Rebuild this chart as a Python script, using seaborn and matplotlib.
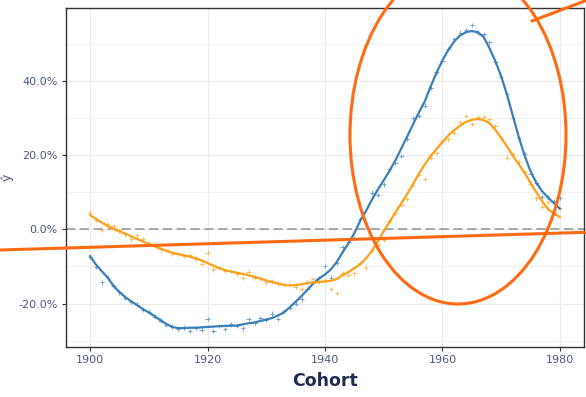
import numpy as np
import pandas as pd
import matplotlib
matplotlib.use("Agg")
import matplotlib.pyplot as plt
import seaborn as sns
from matplotlib.patches import Ellipse
from matplotlib.lines import Line2D
from matplotlib.ticker import FixedLocator, FuncFormatter

# ---------------- data ----------------
years = list(range(1900, 1981))

blue_points = [-7.5, -10.1, -14.3, -13.0, -15.4, -17.0, -18.4, -19.6, -20.3, -21.7,
               -22.3, -23.5, -24.6, -25.8, -26.2, -26.9, -26.4, -27.4, -26.6, -27.0,
               -24.2, -27.4, -26.0, -26.9, -25.6, -26.0, -26.7, -24.2, -25.2, -24.0,
               -24.4, -22.7, -24.2, -22.0, -21.2, -20.0, -18.9, -16.0, -14.2, -13.2,
               -9.9, -13.0, -9.0, -4.9, -3.5, -2.4, 2.7, 1.8, 9.9, 9.2,
               12.1, 16.2, 17.9, 19.7, 24.4, 29.9, 30.5, 33.3, 38.0, 42.4,
               45.4, 48.5, 51.2, 53.0, 53.7, 55.1, 53.0, 52.6, 50.5, 45.0,
               41.0, 36.5, 30.0, 24.5, 20.3, 15.0, 12.5, 8.7, 8.6, 7.5,
               8.4]

blue_fit = [-7.2, -9.5, -11.3, -13.0, -15.3, -16.9, -18.3, -19.4, -20.4, -21.5,
            -22.4, -23.4, -24.5, -25.5, -26.3, -26.6, -26.6, -26.5, -26.5, -26.4,
            -26.3, -26.2, -26.1, -26.0, -26.0, -25.9, -25.6, -25.3, -25.1, -24.7,
            -24.3, -23.9, -23.2, -22.4, -21.0, -19.5, -18.0, -16.3, -14.6, -13.2,
            -12.2, -10.8, -8.8, -6.2, -3.8, -1.0, 2.3, 5.0, 8.0, 10.7,
            13.2, 15.8, 18.6, 21.8, 25.0, 28.3, 31.5, 34.5, 38.5, 42.2,
            45.5, 48.3, 50.6, 52.2, 53.1, 53.4, 53.1, 51.8, 48.8, 45.3,
            41.2, 36.2, 30.5, 24.8, 19.8, 15.6, 12.5, 10.2, 8.5, 7.0,
            5.5]

orange_points = [4.5, 2.6, -0.2, 1.5, 0.9, -0.3, -1.4, -2.7, -1.5, -2.7,
                 -4.0, -4.4, -5.4, -5.6, -6.7, -6.7, -7.2, -7.0, -7.9, -9.4,
                 -6.3, -10.8, -10.2, -11.2, -11.3, -12.0, -13.0, -11.4, -13.1, -13.2,
                 -14.3, -14.0, -14.6, -14.8, -15.0, -15.5, -16.2, -14.3, -13.5, -14.1,
                 -13.8, -16.0, -17.2, -11.9, -12.2, -11.9, -9.0, -10.3, -5.5, -4.2,
                 -2.9, 2.3, 4.5, 6.5, 8.1, 12.0, 14.7, 13.5, 19.3, 20.5,
                 23.8, 24.2, 25.9, 28.9, 30.5, 28.3, 30.2, 30.2, 29.6, 27.8,
                 24.5, 19.3, 20.2, 18.0, 15.5, 12.3, 8.3, 6.1, 7.4, 4.5,
                 5.8]

orange_fit = [3.8, 2.8, 1.8, 0.9, 0.1, -0.6, -1.2, -1.9, -2.6, -3.3,
              -3.9, -4.6, -5.2, -5.8, -6.3, -6.7, -7.0, -7.4, -7.8, -8.4,
              -9.1, -9.8, -10.5, -11.0, -11.4, -11.7, -12.0, -12.4, -12.8, -13.3,
              -13.8, -14.2, -14.6, -15.0, -15.1, -15.0, -14.8, -14.5, -14.3, -14.2,
              -14.0, -13.9, -13.4, -12.3, -11.5, -10.5, -9.4, -7.8, -5.8, -3.2,
              -0.5, 2.0, 4.6, 7.0, 9.5, 12.2, 15.0, 17.5, 19.8, 21.6,
              23.5, 25.3, 26.7, 27.9, 28.9, 29.5, 29.7, 29.4, 28.6, 26.8,
              24.6, 22.3, 19.8, 17.5, 15.2, 12.5, 9.9, 7.5, 5.4, 4.2,
              3.3]

x_ticks = [1900, 1920, 1940, 1960, 1980]
y_ticks = [-20, 0, 20, 40]
y_minor = [-30, -10, 10, 30, 50]

# ---------------- style ----------------
sns.set_theme(style="white")
plt.rcParams['font.family'] = ['DejaVu Sans']

BLUE = "#3A7FB8"
BLUE_PT = "#6AA3D2"
ORANGE = "#FFA01A"
ORANGE_PT = "#FFBA52"
TICK_COL = "#4A5680"
ANNOT = "#FF6A13"

W, H = 586, 397
fig = plt.figure(figsize=(W / 100, H / 100), dpi=100)
ax = fig.add_axes([66 / W, 1 - 347 / H, (584 - 66) / W, (347 - 8) / H])

df = pd.DataFrame({
    "year": years * 2,
    "points": blue_points + orange_points,
    "fit": blue_fit + orange_fit,
    "group": ["a"] * len(years) + ["b"] * len(years),
})
pal = {"a": BLUE, "b": ORANGE}
pal_pt = {"a": BLUE_PT, "b": ORANGE_PT}

ax.axhline(0, color="#9E9A96", lw=1.2, ls=(0, (5.5, 2.8)), zorder=1)

sns.scatterplot(data=df, x="year", y="points", hue="group", palette=pal_pt,
                marker="+", s=10, linewidth=0.7, legend=False, ax=ax, zorder=2)
sns.lineplot(data=df, x="year", y="fit", hue="group", palette=pal,
             linewidth=1.6, legend=False, ax=ax, zorder=3)

ax.set_xlim(1895.9, 1984.1)
ax.set_ylim(-31.7, 59.6)

ax.xaxis.set_major_locator(FixedLocator(x_ticks))
ax.yaxis.set_major_locator(FixedLocator(y_ticks))
ax.yaxis.set_minor_locator(FixedLocator(y_minor))
ax.yaxis.set_major_formatter(FuncFormatter(lambda v, p: f"{v:.1f}%"))

ax.grid(True, which="major", color="#EBEBEB", lw=0.9)
ax.grid(True, which="minor", axis="y", color="#F2F2F2", lw=0.7)
ax.set_axisbelow(True)

for s in ax.spines.values():
    s.set_color("#333333")
    s.set_linewidth(1.0)

ax.tick_params(axis="both", which="major", length=3, width=0.8, color="#333333",
               labelcolor=TICK_COL, labelsize=8, pad=3, direction="out",
               bottom=True, left=True)
ax.tick_params(axis="y", which="minor", length=0)
ax.set_xlabel("")
ax.set_ylabel("")

fig.text(325 / W, 1 - 381 / H, "Cohort", ha="center", va="center",
         fontsize=12.5, fontweight="bold", color="#1E2A4F")
fig.text(7 / W, 1 - 177 / H, "ŷ", ha="center", va="center", rotation=90,
         fontsize=9, color="#4A5680")

# ---------------- annotation overlay ----------------
ell = Ellipse((458 / W, 1 - 135 / H), width=216 / W, height=338 / H,
              transform=fig.transFigure, fill=False, ec=ANNOT, lw=2.2,
              clip_on=False, zorder=10)
fig.patches.append(ell)
fig.lines.append(Line2D([0 / W, 586 / W], [1 - 250 / H, 1 - 232.3 / H],
                        transform=fig.transFigure, color=ANNOT, lw=2.2, zorder=10))
fig.lines.append(Line2D([532 / W, 590 / W], [1 - 21 / H, 1 - (-1) / H],
                        transform=fig.transFigure, color=ANNOT, lw=2.2, zorder=10))

fig.savefig("out.png", dpi=100)
